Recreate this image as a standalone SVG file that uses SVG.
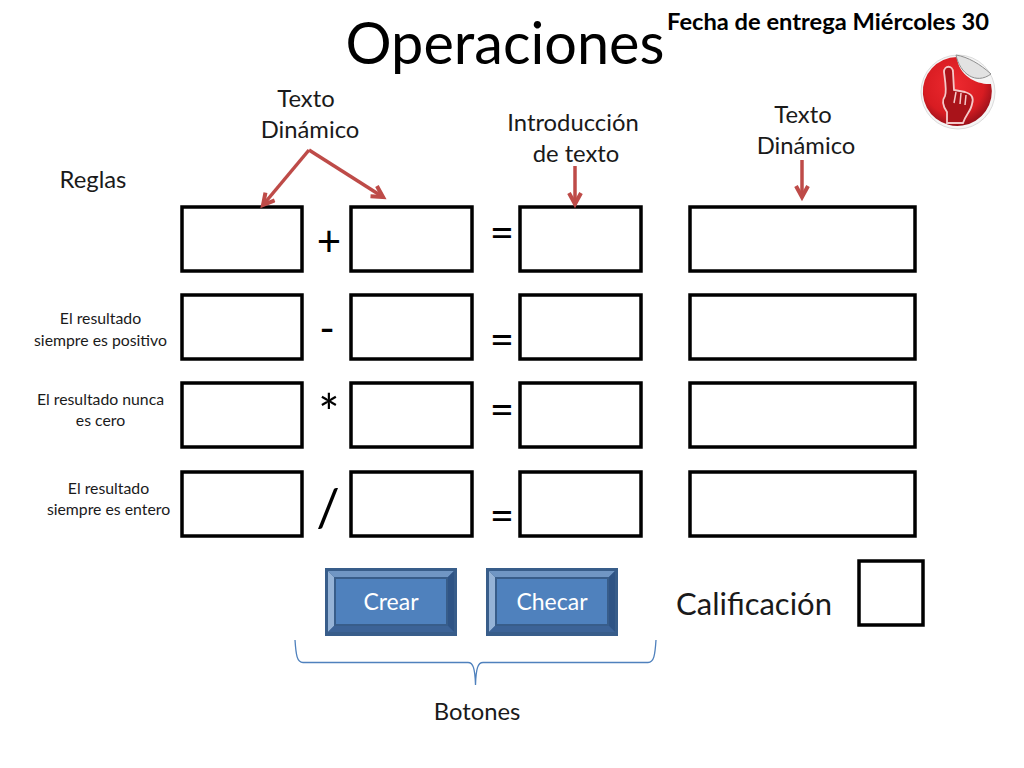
<svg xmlns="http://www.w3.org/2000/svg" width="1024" height="768" viewBox="0 0 1024 768">
<style>
text{font-family:"Lato","Open Sans","Liberation Sans",sans-serif;fill:#000;text-anchor:middle}
.box{fill:#fff;stroke:#000;stroke-width:3.5}
.l{font-size:23.800px;fill:#1a1a1a}
.s{font-size:15.800px;fill:#1a1a1a}
.op{font-size:42px}
.arrow{fill:none;stroke:#be4b48;stroke-width:3.5;marker-end:url(#ah)}
.btn{font-size:23px;fill:#fff}
.panel{fill:#4f81bd;stroke:#385d8a;stroke-width:2}
</style>
<defs>
<marker id="ah" markerUnits="userSpaceOnUse" markerWidth="20" markerHeight="20" refX="13" refY="8" orient="auto"><path d="M2 2L13 8L2 14" fill="none" stroke="#be4b48" stroke-width="4"/></marker>
<radialGradient id="red" cx="0.45" cy="0.4" r="0.62"><stop offset="0" stop-color="#ee2a30"/><stop offset="0.7" stop-color="#d81c22"/><stop offset="1" stop-color="#96101a"/></radialGradient>
</defs>
<rect width="1024" height="768" fill="#fff"/>
<text id="title" x="505" y="64" font-size="57.600">Operaciones</text>
<text id="fecha" x="828" y="30" font-size="23.700" font-weight="700">Fecha de entrega Miércoles 30</text>
<g id="sticker">
<circle cx="958" cy="92" r="37" fill="#f5f5f5" stroke="#dcdcdc"/>
<path d="M957 57A34.500 34.500 0 1 0 991 84C978 85 958 76 957 57Z" fill="url(#red)"/>
<path d="M956 55C960 74 976 85 991 74C980 64 968 57 956 55Z" fill="#e2e2e2" stroke="#8f8f8f" stroke-width="1"/>
<path d="M947 123V112C942 105 942 100 945 96C947 91 945 80 944 72C944 65 953 65 953 72L954 90L965 92C972 94 974 98 972 104C971 111 966 114 963 123Z" fill="#a9131a" stroke="#f4c9c9" stroke-width="1.800"/>
<path d="M956 92L954 103M961 93L960 104M966 95L965 105" fill="none" stroke="#f4c9c9" stroke-width="1.500"/>
</g>
<g id="labels">
<text class="l" x="306" y="107">Texto</text><text class="l" x="310" y="138">Dinámico</text>
<text class="l" x="573" y="131">Introducción</text><text class="l" x="576" y="162">de texto</text>
<text class="l" x="803" y="123">Texto</text><text class="l" x="806" y="154">Dinámico</text>
<text class="l" x="93" y="188">Reglas</text>
<text class="s" x="100.500" y="324">El resultado</text><text class="s" x="100.500" y="346">siempre es positivo</text>
<text class="s" x="100.500" y="405">El resultado nunca</text><text class="s" x="100.500" y="426">es cero</text>
<text class="s" x="108.500" y="494">El resultado</text><text class="s" x="108.500" y="515">siempre es entero</text>
<text x="754" y="615" font-size="31" style="fill:#1a1a1a">Calificación</text>
<text class="l" x="477" y="720">Botones</text>
</g>
<g id="row1"><rect class="box" x="182" y="207" width="120" height="64"/><rect class="box" x="351" y="207" width="121" height="64"/><rect class="box" x="520" y="207" width="121" height="64"/><rect class="box" x="690" y="207" width="225" height="64"/></g>
<g id="row2"><rect class="box" x="182" y="295" width="120" height="64"/><rect class="box" x="351" y="295" width="121" height="64"/><rect class="box" x="520" y="295" width="121" height="64"/><rect class="box" x="690" y="295" width="225" height="64"/></g>
<g id="row3"><rect class="box" x="182" y="383" width="120" height="64"/><rect class="box" x="351" y="383" width="121" height="64"/><rect class="box" x="520" y="383" width="121" height="64"/><rect class="box" x="690" y="383" width="225" height="64"/></g>
<g id="row4"><rect class="box" x="182" y="472" width="120" height="64"/><rect class="box" x="351" y="472" width="121" height="64"/><rect class="box" x="520" y="472" width="121" height="64"/><rect class="box" x="690" y="472" width="225" height="64"/></g>
<g id="calificacion"><rect class="box" x="859" y="561" width="64" height="64"/></g>
<g id="ops">
<text class="op" x="329" y="256">+</text><text class="op" x="327" y="343">-</text><text x="329" y="431" font-size="50">*</text><text x="328" y="526" font-size="52">/</text>
<text class="op" x="502" y="247">=</text><text class="op" x="502" y="354">=</text><text class="op" x="502" y="424">=</text><text class="op" x="502" y="530">=</text>
</g>
<g id="btn-crear">
<rect x="325" y="568" width="132" height="68" fill="#385d8a"/>
<path d="M328 571L335 578V625L328 632Z" fill="#95b3d7"/><path d="M328 571H454L447 578H335Z" fill="#7096c4"/><path d="M454 571V632L447 625V578Z" fill="#2f5485"/><path d="M328 632H454L447 625H335Z" fill="#3c6397"/>
<rect class="panel" x="335" y="578" width="112" height="47"/>
<text class="btn" x="391" y="610">Crear</text>
</g>
<g id="btn-checar">
<rect x="486" y="568" width="132" height="68" fill="#385d8a"/>
<path d="M489 571L496 578V625L489 632Z" fill="#95b3d7"/><path d="M489 571H615L608 578H496Z" fill="#7096c4"/><path d="M615 571V632L608 625V578Z" fill="#2f5485"/><path d="M489 632H615L608 625H496Z" fill="#3c6397"/>
<rect class="panel" x="496" y="578" width="112" height="47"/>
<text class="btn" x="552" y="610">Checar</text>
</g>
<g id="connectors">
<path class="arrow" d="M309 150L263 205"/>
<path class="arrow" d="M309 150L383 197"/>
<path class="arrow" d="M575 166V204"/>
<path class="arrow" d="M802 160V197"/>
<path d="M295 640C296 655 297 662.500 303 662.500H468C473 662.500 475 668 475.500 685C476 668 478 662.500 483 662.500H648C654 662.500 655 655 656 640" fill="none" stroke="#4f81bd" stroke-width="1.300"/>
</g>
</svg>
